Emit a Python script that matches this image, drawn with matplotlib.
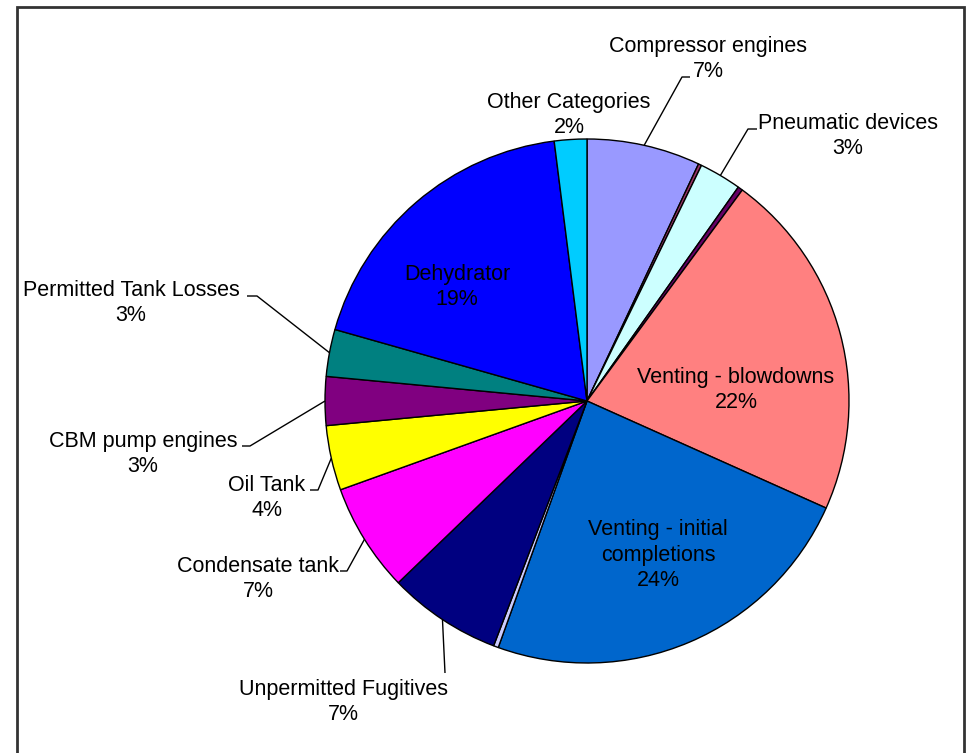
import matplotlib.pyplot as plt
import numpy as np

plt.rcParams['font.family'] = ['Liberation Sans', 'DejaVu Sans']

# Emission sources, clockwise from 12 o'clock (the three thin unnamed slices are minor sources)
categories = ['Compressor engines', '', 'Pneumatic devices', '', 'Venting - blowdowns',
              'Venting - initial\ncompletions', '', 'Unpermitted Fugitives', 'Condensate tank',
              'Oil Tank', 'CBM pump engines', 'Permitted Tank Losses', 'Dehydrator',
              'Other Categories']
shares = [7.0, 0.2, 2.6, 0.3, 21.6, 23.8, 0.3, 7.0, 6.7, 4.0, 3.0, 2.9, 18.6, 2.0]
colors = ['#9999FF', '#993366', '#CCFFFF', '#660066', '#FF8080', '#0066CC', '#CCCCFF',
          '#000080', '#FF00FF', '#FFFF00', '#800080', '#008080', '#0000FF', '#00CCFF']

W, H = 972, 753
fig = plt.figure(figsize=(W / 100, H / 100), dpi=100)
ax = fig.add_axes([0, 0, 1, 1])


def py(y):
    # pixel row measured from the top -> data y
    return H - y


cx, cy, r = 587, py(401), 262
wedges, _ = ax.pie(shares, colors=colors, startangle=90, counterclock=False,
                   center=(cx, cy), radius=r, frame=True,
                   wedgeprops=dict(edgecolor='black', linewidth=1.0))
ax.set_xlim(0, W)
ax.set_ylim(0, H)
ax.axis('off')

total = sum(shares)
fs = 15.5

# label layout: text centre (x, y of the pair of lines), elbow of leader, end of short tick
layout = {
    'Compressor engines': ((708, 59), (682, 77), (690, 77)),
    'Pneumatic devices': ((848, 136), (748, 129), (757, 129)),
    'Permitted Tank Losses': ((131, 303), (257, 296), (247, 296)),
    'CBM pump engines': ((143, 454), (250, 446), (242, 446)),
    'Oil Tank': ((267, 498), (318, 490), (310, 490)),
    'Condensate tank': ((258, 579), (347, 571), (340, 571)),
    'Unpermitted Fugitives': ((343, 702), (445, 673), None),
    'Other Categories': ((569, 115), None, None),
    'Dehydrator': ((457, 287), None, None),
    'Venting - blowdowns': ((736, 390), None, None),
    'Venting - initial\ncompletions': ((658, 555), None, None),
}

for w, name, v in zip(wedges, categories, shares):
    if not name:
        continue
    (tx, ty), elbow, tick = layout[name]
    pct = f'{v / total * 100:.0f}%'
    ax.text(tx, py(ty), f'{name}\n{pct}', ha='center', va='center',
            fontsize=fs, linespacing=1.27, color='black')
    if elbow is not None:
        mid = np.deg2rad((w.theta1 + w.theta2) / 2)
        ex, ey = cx + r * np.cos(mid), cy + r * np.sin(mid)
        xs, ys = [ex, elbow[0]], [ey, py(elbow[1])]
        if tick is not None:
            xs.append(tick[0])
            ys.append(py(tick[1]))
        ax.plot(xs, ys, color='black', lw=1.0, solid_capstyle='butt')

# chart area border
ax.add_patch(plt.Rectangle((16.5, py(760)), 947, 753, fill=False,
                           edgecolor='#333333', lw=2.0))

fig.savefig('out.png', dpi=100)
